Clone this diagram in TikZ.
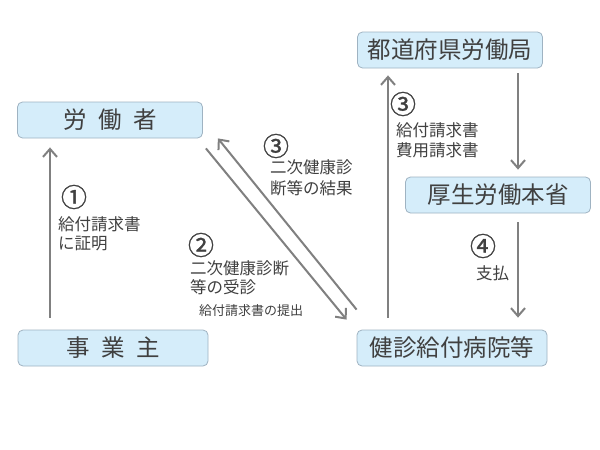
\documentclass[tikz,border=0pt]{standalone}
\usepackage{fontspec}
\setmainfont{Noto Sans CJK JP}
\newfontfamily\numfont{Noto Sans CJK JP}[FakeBold=1.2]
\usetikzlibrary{arrows.meta}
\definecolor{boxfill}{HTML}{D5EDFA}
\definecolor{boxline}{HTML}{9FB3C2}
\definecolor{txt}{HTML}{404040}
\definecolor{arr}{HTML}{808080}
\begin{document}
\begin{tikzpicture}[x=1pt,y=-1pt,
 box/.style={draw=boxline, fill=boxfill, rounded corners=5pt, line width=0.8pt, minimum height=36pt, text=txt, font=\fontsize{23.5}{25}\selectfont, inner sep=0pt},
 conn/.style={draw=arr, line width=2pt, -{Straight Barb[length=8pt,width=14pt,line width=2pt]}},
 lab/.style={text=txt, font=\fontsize{16.5}{19}\selectfont, align=left, anchor=west, inner sep=0pt},
 num/.style={text=txt, font=\numfont\fontsize{26}{26}\selectfont, inner sep=0pt}]
\useasboundingbox (0,0) rectangle (600,450);
\fill[white] (0,0) rectangle (600,450);
\node[box, minimum width=185pt] (rou) at (110,120) {労\hspace{0.5em}働\hspace{0.5em}者};
\node[box, minimum width=190pt] (jig) at (113,348) {事\hspace{0.5em}業\hspace{0.5em}主};
\node[box, minimum width=185pt] (kyoku) at (450,50) {都道府県労働局};
\node[box, minimum width=185pt] (hon) at (498,195) {厚生労働本省};
\node[box, minimum width=190pt] (byo) at (452,348) {健診給付病院等};

\draw[conn] ([xshift=-63pt,yshift=12pt]jig.north) -- ([xshift=-60pt,yshift=-9pt]rou.south);
\draw[conn] ([xshift=3pt,yshift=-10pt]rou.south east) -- ([xshift=-10pt,yshift=10pt]byo.north west);
\draw[conn] ([yshift=20pt]byo.north west) -- ([xshift=15pt]rou.south east);
\draw[conn] ([xshift=-64pt,yshift=12pt]byo.north) -- ([xshift=-62pt,yshift=-7pt]kyoku.south);
\draw[conn] ([xshift=68pt,yshift=-5pt]kyoku.south) -- ([xshift=20pt,yshift=7pt]hon.north);
\draw[conn] ([xshift=20pt,yshift=-9pt]hon.south) -- ([xshift=66pt,yshift=12pt]byo.north);

\node[num] (n1) at (74,197) {①};
\node[lab] (t1) at (58,234) {給付請求書\\に証明};
\node[num] (n2) at (201,245) {②};
\node[lab] (t2) at (190,277.5) {二次健康診断\\等の受診};
\node[lab, anchor=center, font=\fontsize{13}{15}\selectfont] (t2b) at (251,311) {給付請求書の提出};
\node[num] (n3) at (276,146) {③};
\node[lab, font=\fontsize{16.5}{21}\selectfont] (t3) at (270,177.5) {二次健康診\\断等の結果};
\node[num] (n3b) at (403,104) {③};
\node[lab, font=\fontsize{16.5}{20}\selectfont] (t3b) at (396,140) {給付請求書\\費用請求書};
\node[num] (n4) at (483,246) {④};
\node[lab] (t4) at (476,273) {支払};
\end{tikzpicture}
\end{document}
